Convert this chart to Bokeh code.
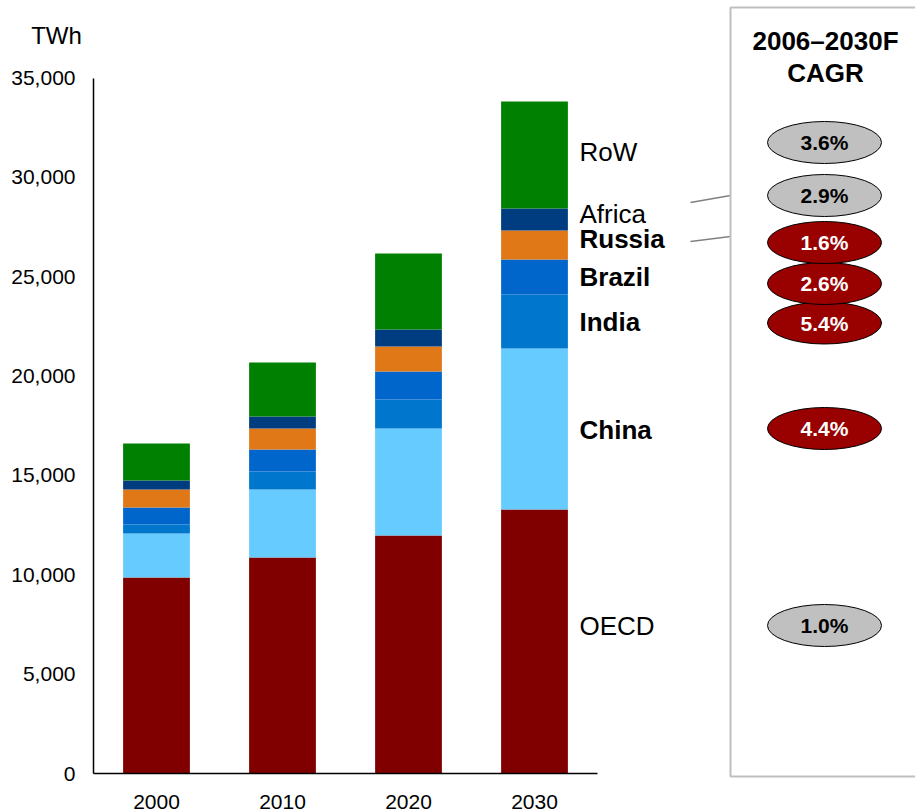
from bokeh.plotting import figure
from bokeh.models import ColumnDataSource, Range1d, FixedTicker, NumeralTickFormatter
from bokeh.core.properties import value
from bokeh.embed import file_html
from bokeh.resources import INLINE

# Electricity generation by region, TWh
years = ["2000", "2010", "2020", "2030"]
regions = ["OECD", "China", "India", "Brazil", "Russia", "Africa", "RoW"]
oecd = [9860, 10870, 11980, 13290]
china = [2220, 3420, 5380, 8100]
india = [450, 910, 1460, 2720]
brazil = [860, 1110, 1410, 1760]
russia = [900, 1050, 1260, 1460]
africa = [460, 610, 860, 1100]
row = [1860, 2710, 3820, 5390]

# 2006-2030F compound annual growth rate per region, %
cagr = [1.0, 4.4, 5.4, 2.6, 1.6, 2.9, 3.6]
bric = ["China", "India", "Brazil", "Russia"]

y_ticks = [0, 5000, 10000, 15000, 20000, 25000, 30000, 35000]
y_unit = "TWh"
panel_title = "2006\u20132030F\nCAGR"

# ---- styling / layout -------------------------------------------------------
FONT = "Liberation Sans"
W, H = 915, 812
AXIS_X, AXIS_Y = 93, 773          # where the two axis lines sit on the canvas
PX_PER_BAR = 126.0
PX_PER_TWH = 19.87 / 1000.0
colors = ["#800000", "#66CCFF", "#0077CC", "#0066CC", "#E07818", "#003D80", "#008000"]

x0 = -0.5 - AXIS_X / PX_PER_BAR
y0 = -(H - AXIS_Y) / PX_PER_TWH
p = figure(width=W, height=H, title=None,
           x_range=Range1d(x0, x0 + W / PX_PER_BAR),
           y_range=Range1d(y0, y0 + H / PX_PER_TWH),
           output_backend="svg", toolbar_location=None, min_border=0)
p.outline_line_color = None
p.background_fill_color = "white"
p.border_fill_color = "white"
p.xgrid.visible = False
p.ygrid.visible = False

# pixel-like ranges for the annotation column and free texts
p.extra_x_ranges = {"px": Range1d(0, W)}
p.extra_y_ranges = {"py": Range1d(H, 0)}
PX = dict(x_range_name="px", y_range_name="py")

# ---- stacked bars ------------------------------------------------------------
series = dict(zip(regions, [oecd, china, india, brazil, russia, africa, row]))
src = ColumnDataSource(dict(x=list(range(len(years))), **series))
p.vbar_stack(regions, x="x", width=0.53, source=src,
             fill_color=colors, line_color=None)

# ---- axes (pinned inside the canvas) -----------------------------------------
p.xaxis.fixed_location = 0
p.yaxis.fixed_location = -0.5
p.xaxis.ticker = FixedTicker(ticks=list(range(len(years))))
p.xaxis.major_label_overrides = {i: y for i, y in enumerate(years)}
p.xaxis.bounds = (-0.5, len(years) - 0.5)
p.yaxis.ticker = FixedTicker(ticks=y_ticks)
p.yaxis.formatter = NumeralTickFormatter(format="0,0")
p.yaxis.bounds = (y_ticks[0], y_ticks[-1])
for ax in (p.xaxis, p.yaxis):
    ax.axis_line_color = "black"
    ax.axis_line_width = 1.5
    ax.major_tick_line_color = None
    ax.minor_tick_line_color = None
    ax.major_label_text_font = FONT
    ax.major_label_text_font_size = "21px"
    ax.major_label_text_color = "black"
p.yaxis.major_label_standoff = 12
p.xaxis.major_label_standoff = 15

p.text(x=[56], y=[35], text=[y_unit], text_font=value(FONT), text_font_size="24px",
       text_color="black", text_align="center", text_baseline="middle", **PX)

# ---- region labels next to the 2030 bar ------------------------------------
label_y = {"RoW": 151, "Africa": 213.5, "Russia": 238, "Brazil": 276,
           "India": 321, "China": 429, "OECD": 625}
for bold in (False, True):
    names = [r for r in regions if (r in bric) == bold]
    p.text(x=[579] * len(names), y=[label_y[r] for r in names], text=names,
           text_font=value(FONT), text_font_size="26px",
           text_font_style="bold" if bold else "normal",
           text_color="black", text_align="left", text_baseline="middle", **PX)

# leader lines from Africa / Russia labels to the growth column
p.segment(x0=[690, 690], y0=[202, 241], x1=[730, 730], y1=[195, 236],
          line_color="#808080", line_width=1.5, **PX)

# ---- CAGR column -------------------------------------------------------------
p.quad(left=[730], right=[W + 20], top=[7], bottom=[776],
       fill_color=None, line_color="#BFBFBF", line_width=2, **PX)
for i, line in enumerate(panel_title.split("\n")):
    p.text(x=[825], y=[40 + 32 * i], text=[line],
           text_font=value(FONT), text_font_size="26px", text_font_style="bold",
           text_color="black", text_align="center", text_baseline="middle", **PX)

ellipse_y = {"RoW": 142, "Africa": 195, "Russia": 242, "Brazil": 283,
             "India": 322.5, "China": 428, "OECD": 625}
csrc = ColumnDataSource(dict(
    x=[824] * len(regions),
    y=[ellipse_y[r] for r in regions],
    txt=["%.1f%%" % v for v in cagr],
    fill=["#990000" if r in bric else "#C0C0C0" for r in regions],
    tcol=["white" if r in bric else "black" for r in regions],
))
p.ellipse(x="x", y="y", width=114, height=42, width_units="screen", height_units="screen",
          fill_color="fill", line_color="black", line_width=1, source=csrc, **PX)
p.text(x="x", y="y", text="txt", text_color="tcol", source=csrc,
       text_font=value(FONT), text_font_size="21px", text_font_style="bold",
       text_align="center", text_baseline="middle", **PX)

open("out.html", "w").write(file_html(p, INLINE))
